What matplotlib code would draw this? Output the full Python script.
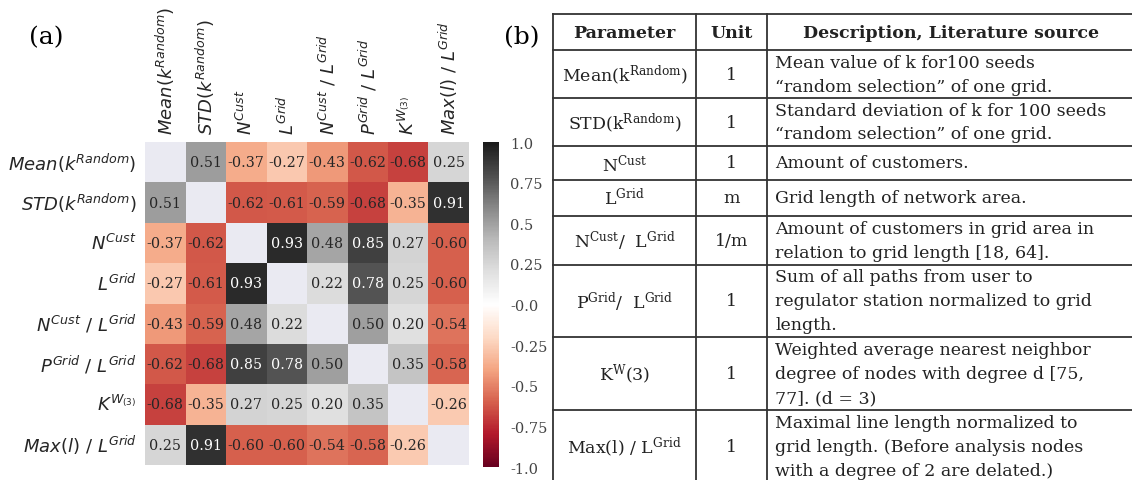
import numpy as np
import matplotlib.pyplot as plt
import seaborn as sns

# heatmap labels and correlation values
labels = [r"$Mean(k^{Random})$", r"$STD(k^{Random})$", r"$N^{Cust}$", r"$L^{Grid}$",
          r"$N^{Cust}\ /\ L^{Grid}$", r"$P^{Grid}\ /\ L^{Grid}$", r"$K^{W_{(3)}}$",
          r"$Max(l)\ /\ L^{Grid}$"]
nan = np.nan
corr = np.array([
    [nan, 0.51, -0.37, -0.27, -0.43, -0.62, -0.68, 0.25],
    [0.51, nan, -0.62, -0.61, -0.59, -0.68, -0.35, 0.91],
    [-0.37, -0.62, nan, 0.93, 0.48, 0.85, 0.27, -0.60],
    [-0.27, -0.61, 0.93, nan, 0.22, 0.78, 0.25, -0.60],
    [-0.43, -0.59, 0.48, 0.22, nan, 0.50, 0.20, -0.54],
    [-0.62, -0.68, 0.85, 0.78, 0.50, nan, 0.35, -0.58],
    [-0.68, -0.35, 0.27, 0.25, 0.20, 0.35, nan, -0.26],
    [0.25, 0.91, -0.60, -0.60, -0.54, -0.58, -0.26, nan],
])
cbar_ticks = [-1.0, -0.75, -0.5, -0.25, 0.0, 0.25, 0.5, 0.75, 1.0]
cbar_labels = ["-1.0", "-0.75", "-0.5", "-0.25", "-0.0", "0.25", "0.5", "0.75", "1.0"]

# table content
headers = ["Parameter", "Unit", "Description, Literature source"]
params = [r"Mean(k$^{\mathrm{Random}}$)", r"STD(k$^{\mathrm{Random}}$)", r"N$^{\mathrm{Cust}}$",
          r"L$^{\mathrm{Grid}}$", r"N$^{\mathrm{Cust}}$/  L$^{\mathrm{Grid}}$",
          r"P$^{\mathrm{Grid}}$/  L$^{\mathrm{Grid}}$", r"K$^{\mathrm{W}}$(3)",
          r"Max(l) / L$^{\mathrm{Grid}}$"]
units = ["1", "1", "1", "m", "1/m", "1", "1", "1"]
descriptions = [
    ["Mean value of k for100 seeds", "\u201crandom selection\u201d of one grid."],
    ["Standard deviation of k for 100 seeds", "\u201crandom selection\u201d of one grid."],
    ["Amount of customers."],
    ["Grid length of network area."],
    ["Amount of customers in grid area in", "relation to grid length [18, 64]."],
    ["Sum of all paths from user to", "regulator station normalized to grid", "length."],
    ["Weighted average nearest neighbor", "degree of nodes with degree d [75,", "77]. (d = 3)"],
    ["Maximal line length normalized to", "grid length. (Before analysis nodes",
     "with a degree of 2 are delated.)"],
]

W, H = 1132, 481
fig = plt.figure(figsize=(W / 100, H / 100), dpi=100)

# ---- (a) heatmap ----
ax = fig.add_axes([145 / W, 1 - 466 / H, 324 / W, 323 / H])
cax = fig.add_axes([483 / W, 1 - 468 / H, 16 / W, 325 / H])
ax.set_facecolor('#eaeaf2')
mask = np.eye(len(labels), dtype=bool)
sns.heatmap(corr, mask=mask, cmap='RdGy', vmin=-1, vmax=1, annot=True, fmt='.2f',
            annot_kws=dict(family='DejaVu Serif', size=10.3),
            xticklabels=labels, yticklabels=labels, ax=ax, cbar_ax=cax)
for t in ax.texts:
    v = float(t.get_text())
    t.set_color('white' if v > 0.7 else '#262626')

ax.xaxis.tick_top()
ax.tick_params(length=0, pad=6, labelsize=13, colors='#262626')
plt.setp(ax.get_xticklabels(), rotation=90, ha='center', va='bottom')
plt.setp(ax.get_yticklabels(), rotation=0, ha='right', va='center')

cbar = ax.collections[0].colorbar
cbar.outline.set_visible(False)
cbar.set_ticks(cbar_ticks)
cbar.set_ticklabels(cbar_labels)
cax.tick_params(length=0, pad=8, labelsize=10.5, labelcolor='#444444')
for t in cax.get_yticklabels():
    t.set_family('DejaVu Serif')

fig.text(46 / W, 1 - 38 / H, "(a)", family='DejaVu Serif', fontsize=18,
         ha='center', va='center')

# ---- (b) table ----
tab = fig.add_axes([0, 0, 1, 1])
tab.set_xlim(0, W)
tab.set_ylim(H, 0)
tab.axis('off')

rows_y = [15, 51, 99, 147, 181, 217, 266, 338, 411, 484]
cols_x = [553, 696, 767]
lc = '#333333'
for y in rows_y:
    tab.plot([cols_x[0], W], [y, y], color=lc, lw=1.3)
for x in cols_x:
    tab.plot([x, x], [rows_y[0], H], color=lc, lw=1.3)

tab.text(522, 38, "(b)", family='DejaVu Serif', fontsize=18, ha='center', va='center')

fs = 12.5
serif = 'DejaVu Serif'
hy = (rows_y[0] + rows_y[1]) / 2
tab.text((cols_x[0] + cols_x[1]) / 2, hy, headers[0], family=serif, fontsize=fs,
         weight='bold', ha='center', va='center', color='#222222')
tab.text((cols_x[1] + cols_x[2]) / 2, hy, headers[1], family=serif, fontsize=fs,
         weight='bold', ha='center', va='center', color='#222222')
tab.text(951, hy, headers[2], family=serif, fontsize=fs,
         weight='bold', ha='center', va='center', color='#222222')

for i in range(len(params)):
    cy = (rows_y[i + 1] + rows_y[i + 2]) / 2
    tab.text((cols_x[0] + cols_x[1]) / 2, cy, params[i], family=serif, fontsize=fs,
             math_fontfamily='dejavuserif', ha='center', va='center', color='#222222')
    tab.text((cols_x[1] + cols_x[2]) / 2, cy, units[i], family=serif, fontsize=fs,
             ha='center', va='center', color='#222222')
    lines = descriptions[i]
    n = len(lines)
    for j, line in enumerate(lines):
        tab.text(cols_x[2] + 8, cy + (j - (n - 1) / 2) * 24, line, family=serif,
                 fontsize=fs, ha='left', va='center', color='#222222')

fig.savefig('out.png', dpi=100)
